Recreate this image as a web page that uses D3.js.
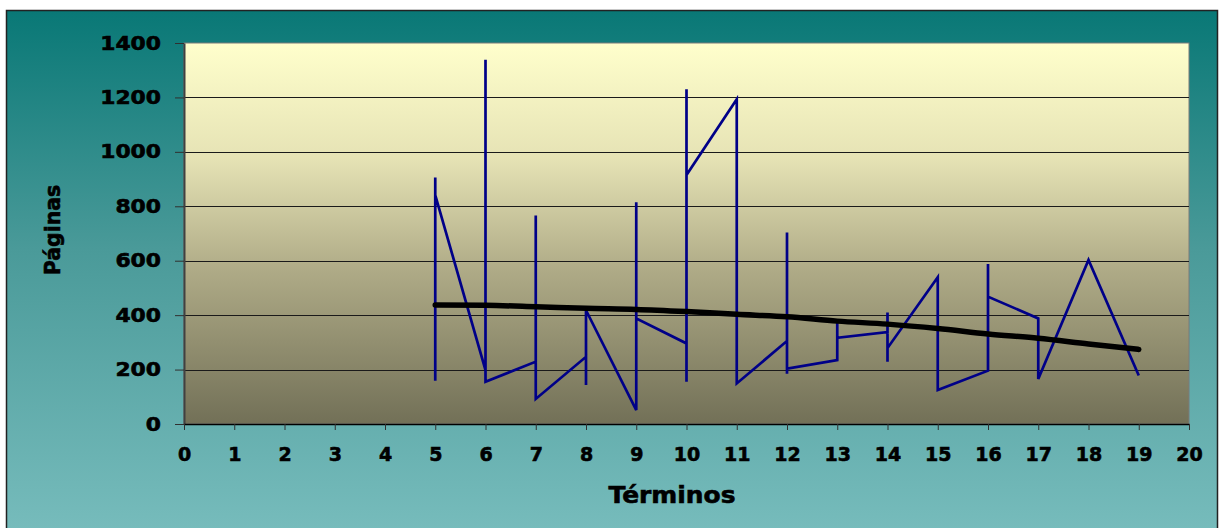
<!DOCTYPE html>
<html>
<head>
<meta charset="utf-8">
<script src="https://cdn.jsdelivr.net/npm/d3@7"></script>
<style>
  body { margin: 0; background: #fff; }
  text { font-family: "DejaVu Sans", Arial, sans-serif; font-weight: bold; stroke: #000; stroke-width: 0.6px; }
</style>
</head>
<body>
<div id="chart"></div>
<script>
// path of the series, in drawing order (several points per term)
var terms = [5, 5, 5, 6, 6, 6, 7, 7, 7, 8, 8, 8, 9, 9, 9, 10, 10, 10, 10, 11, 11,
             12, 12, 12, 12, 13, 13, 13, 14, 14, 14, 14, 15, 15, 16, 16, 16, 17, 17, 18, 19];
var pages = [159, 906, 841, 198, 1338, 155, 229, 766, 92, 247, 143, 418, 51, 815, 388, 296, 155, 1230, 915, 1193, 149,
             305, 704, 185, 203, 235, 371, 317, 338, 410, 229, 279, 539, 125, 196, 588, 468, 388, 165, 603, 178];

// trend line
var trendTerms = [5, 6, 7, 8, 9, 10, 11, 12, 13, 14, 15, 16, 17, 18, 19];
var trendPages = [437, 436, 431, 425, 421, 413, 403, 394, 378, 367, 351, 331, 315, 294, 274];

var yTicks = [0, 200, 400, 600, 800, 1000, 1200, 1400];
var xTicks = d3.range(0, 21);

var width = 1219, height = 528;
var plotL = 184, plotR = 1189, plotT = 43, plotB = 424;

var svg = d3.select("#chart").append("svg").attr("width", width).attr("height", height);
var defs = svg.append("defs");

var bg = defs.append("linearGradient").attr("id", "bg").attr("x1", 0).attr("y1", 0).attr("x2", 0).attr("y2", 1);
bg.append("stop").attr("offset", "0%").attr("stop-color", "#097876");
bg.append("stop").attr("offset", "45%").attr("stop-color", "#4a9a99");
bg.append("stop").attr("offset", "100%").attr("stop-color", "#78bdbd");

var plotBg = defs.append("linearGradient").attr("id", "plotbg").attr("x1", 0).attr("y1", 0).attr("x2", 0).attr("y2", 1);
plotBg.append("stop").attr("offset", "0%").attr("stop-color", "#ffffcc");
plotBg.append("stop").attr("offset", "30%").attr("stop-color", "#e6e3b5");
plotBg.append("stop").attr("offset", "60%").attr("stop-color", "#aeaa86");
plotBg.append("stop").attr("offset", "100%").attr("stop-color", "#727057");

svg.append("rect")
    .attr("x", 6.5).attr("y", 10.5)
    .attr("width", 1211).attr("height", 530)
    .attr("fill", "url(#bg)")
    .attr("stroke", "#222").attr("stroke-width", 1.5);

var x = d3.scaleLinear().domain([0, 20]).range([plotL, plotR]);
var y = d3.scaleLinear().domain([0, 1400]).range([plotB, plotT]);

svg.append("rect")
    .attr("x", plotL).attr("y", plotT)
    .attr("width", plotR - plotL).attr("height", plotB - plotT)
    .attr("fill", "url(#plotbg)")
    .attr("stroke", "#7a7a7a").attr("stroke-width", 1);

// gridlines
svg.append("g").selectAll("line")
    .data(yTicks.filter(function(d) { return d > 0 && d < 1400; }))
    .enter().append("line")
    .attr("x1", plotL).attr("x2", plotR)
    .attr("y1", function(d) { return Math.round(y(d)) + 0.5; })
    .attr("y2", function(d) { return Math.round(y(d)) + 0.5; })
    .attr("stroke", "#1a1a1a").attr("stroke-width", 1);

// y axis
var yAxis = svg.append("g")
    .attr("transform", "translate(" + plotL + ",0)")
    .call(d3.axisLeft(y).tickValues(yTicks).tickFormat(d3.format("d")).tickSize(9).tickPadding(14).tickSizeOuter(0));
yAxis.select(".domain").attr("stroke", "#404040").attr("stroke-width", 2);
yAxis.selectAll(".tick line").attr("stroke", "#303030");
yAxis.selectAll(".tick text")
    .attr("font-size", 19).attr("fill", "#000")
    .attr("font-family", "DejaVu Sans").attr("font-weight", "bold")
    .attr("textLength", function(d) { return String(d).length * 15.2; })
    .attr("lengthAdjust", "spacingAndGlyphs");

// x axis
var xAxis = svg.append("g")
    .attr("transform", "translate(0," + plotB + ")")
    .call(d3.axisBottom(x).tickValues(xTicks).tickSize(6).tickSizeOuter(0));
xAxis.select(".domain").attr("stroke", "#000").attr("stroke-width", 1.5);
xAxis.selectAll(".tick line").attr("stroke", "#303030");
xAxis.selectAll(".tick text")
    .attr("font-size", 19).attr("fill", "#000")
    .attr("font-family", "DejaVu Sans").attr("font-weight", "bold")
    .attr("y", 37).attr("dy", null);

// series
var pts = terms.map(function(t, i) { return [t, pages[i]]; });
var line = d3.line().x(function(d) { return x(d[0]); }).y(function(d) { return y(d[1]); });

svg.append("path")
    .datum(pts)
    .attr("d", line)
    .attr("fill", "none")
    .attr("stroke", "#000088")
    .attr("stroke-width", 2.7)
    .attr("stroke-linejoin", "miter");

var trend = trendTerms.map(function(t, i) { return [t, trendPages[i]]; });
svg.append("path")
    .datum(trend)
    .attr("d", line.curve(d3.curveMonotoneX))
    .attr("fill", "none")
    .attr("stroke", "#000")
    .attr("stroke-width", 5.5)
    .attr("stroke-linecap", "round");

// axis titles
svg.append("text")
    .attr("x", 672).attr("y", 503)
    .attr("text-anchor", "middle")
    .attr("font-size", 23)
    .attr("textLength", 127).attr("lengthAdjust", "spacingAndGlyphs")
    .text("Términos");

svg.append("text")
    .attr("transform", "translate(60,230) rotate(-90)")
    .attr("text-anchor", "middle")
    .attr("font-size", 22)
    .attr("textLength", 90).attr("lengthAdjust", "spacingAndGlyphs")
    .text("Páginas");
</script>
</body>
</html>
